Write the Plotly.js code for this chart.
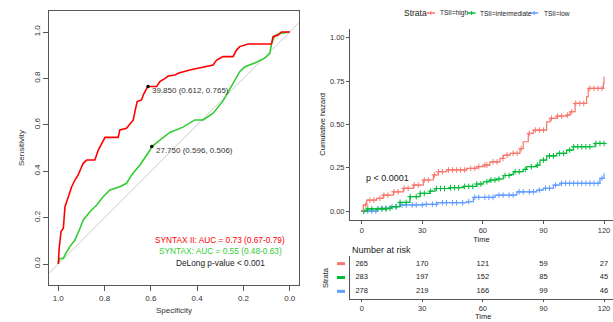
<!DOCTYPE html>
<html>
<head>
<meta charset="utf-8">
<script src="https://cdn.plot.ly/plotly-3.0.1.min.js"></script>
<style>html,body{margin:0;padding:0;background:#fff;}#chart{width:613px;height:322px;}</style>
</head>
<body>
<div id="chart"></div>
<script>
// ---------- ROC data (left panel) ----------
const rocSyntax2Spec = [1.000,0.996,0.988,0.978,0.971,0.957,0.942,0.928,0.914,0.899,0.892,0.877,0.842,0.827,0.813,0.798,0.741,0.734,0.705,0.690,0.676,0.669,0.659,0.640,0.633,0.618,0.612,0.575,0.561,0.539,0.525,0.496,0.482,0.432,0.381,0.331,0.316,0.288,0.245,0.230,0.216,0.180,0.079,0.072,0.050,0.036,0.000];
const rocSyntax2Sens = [0.000,0.068,0.140,0.154,0.247,0.290,0.333,0.362,0.384,0.419,0.434,0.448,0.448,0.491,0.520,0.546,0.546,0.578,0.585,0.606,0.621,0.656,0.700,0.707,0.728,0.757,0.765,0.765,0.786,0.800,0.810,0.815,0.822,0.836,0.848,0.858,0.879,0.894,0.894,0.922,0.937,0.948,0.948,0.980,0.987,1.000,1.000];
const rocSyntaxSpec = [1.000,0.993,0.978,0.971,0.950,0.928,0.906,0.892,0.863,0.834,0.806,0.777,0.734,0.705,0.683,0.647,0.604,0.596,0.561,0.518,0.461,0.410,0.374,0.331,0.288,0.252,0.216,0.194,0.151,0.108,0.086,0.079,0.065,0.043,0.000];
const rocSyntaxSens = [0.000,0.024,0.024,0.039,0.075,0.103,0.154,0.190,0.225,0.254,0.290,0.319,0.333,0.348,0.384,0.427,0.490,0.506,0.534,0.567,0.590,0.621,0.621,0.650,0.703,0.768,0.829,0.850,0.866,0.887,0.908,0.948,0.983,0.994,1.000];
const cutSpec = [0.612, 0.596];
const cutSens = [0.765, 0.506];
const cutLabels = ["39.850 (0.612, 0.765)", "27.750 (0.596, 0.506)"];
const diagSpec = [1.04, -0.04];
const diagSens = [-0.04, 1.04];
const rocLegend = ["SYNTAX II: AUC = 0.73 (0.67-0.79)", "SYNTAX: AUC = 0.55 (0.48-0.63)", "DeLong p-value < 0.001"];

// ---------- Cumulative hazard data (right panel) ----------
const highTime = [0,0.8,2.5,7.4,10.7,15.7,20.6,25.6,30.5,35.5,37.9,42.1,47,52,57,60.2,63.5,68.5,70.1,73.5,78.4,80,82.5,85,89.2,91.6,93.3,96.6,101.5,103.2,105.7,109.8,111.4,112.2,118.9,119.7,120];
const highHaz  = [0,0.035,0.063,0.073,0.092,0.111,0.131,0.150,0.179,0.208,0.227,0.237,0.237,0.246,0.256,0.265,0.284,0.304,0.323,0.333,0.360,0.400,0.448,0.467,0.467,0.515,0.535,0.548,0.554,0.573,0.621,0.621,0.660,0.708,0.708,0.737,0.775];
const interTime = [0,2.5,12.4,14.9,19,23.9,28.9,33.8,36.3,43.7,50.3,57,60.2,63.5,66.9,70.1,73.5,75.1,80,81.7,86.7,88.3,91.6,96.6,101.5,104.8,115.6,120];
const interHaz  = [0,0.012,0.016,0.025,0.050,0.083,0.102,0.115,0.130,0.135,0.142,0.156,0.169,0.179,0.185,0.205,0.210,0.227,0.240,0.256,0.265,0.294,0.318,0.333,0.352,0.371,0.390,0.390];
const lowTime = [0,7.4,14,19,30.5,37.1,52,55.3,66,76.8,86.7,89.9,94.9,98.2,116.4,118,120];
const lowHaz  = [0,0.016,0.025,0.035,0.039,0.048,0.054,0.079,0.092,0.111,0.121,0.131,0.150,0.160,0.160,0.189,0.217];
const highCensor  = [2,4,6,9,11,13,16,18,21,23,26,28,31,33,36,38,40,43,45,47,49,51,54,56,58,61,62,65,67,70,72,75,77,79,83,86,88,90,94,97,99,102,104,106,108,110,113,115,117,119];
const interCensor = [1,3,5,8,10,12,14,17,19,22,24,27,29,31,34,37,39,41,44,46,48,51,53,55,57,59,62,64,66,68,71,73,76,78,81,84,87,90,93,95,98,100,103,105,107,109,111,113,116,118,120];
const lowCensor   = [1,3,5,7,10,12,15,17,20,22,25,27,30,32,35,37,40,42,45,47,50,53,56,58,61,63,65,68,70,73,75,78,80,83,85,88,91,93,96,99,101,103,105,107,109,111,113,115,117,119];
const strataNames = ["TSII=high", "TSII=intermediate", "TSII=low"];
const pValueText = "p < 0.0001";

// ---------- Risk table ----------
const riskTimes = [0,30,60,90,120];
const riskHigh  = [265,170,121,59,27];
const riskInter = [283,197,152,85,45];
const riskLow   = [278,219,166,99,46];

// ---------- styling ----------
const FONT = "Liberation Sans, Arial, Helvetica, sans-serif";
const COL = {high: "#F8766D", inter: "#00BA38", low: "#619CFF"};
const ROC_RED = "#FF0000", ROC_GREEN = "#33CC33";
const W = 613, H = 322;
const px = v => v / W;
const py = v => (H - v) / H;

function stepAt(times, vals, t) {
  let v = vals[0];
  for (let i = 0; i < times.length; i++) { if (times[i] <= t) v = vals[i]; }
  return v;
}

const traces = [];
// diagonal reference
traces.push({x: diagSpec, y: diagSens, xaxis: "x", yaxis: "y", mode: "lines",
  line: {color: "#CCCCCC", width: 1}, hoverinfo: "skip"});
traces.push({x: rocSyntaxSpec, y: rocSyntaxSens, xaxis: "x", yaxis: "y", mode: "lines",
  line: {color: ROC_GREEN, width: 1.6}, name: "SYNTAX"});
traces.push({x: rocSyntax2Spec, y: rocSyntax2Sens, xaxis: "x", yaxis: "y", mode: "lines",
  line: {color: ROC_RED, width: 1.6}, name: "SYNTAX II"});
traces.push({x: cutSpec, y: cutSens, xaxis: "x", yaxis: "y", mode: "markers",
  marker: {color: "#000", size: 3.5}, hoverinfo: "skip"});

// hazard curves
const strata = [
  {t: highTime, h: highHaz, c: highCensor, col: COL.high, name: strataNames[0]},
  {t: interTime, h: interHaz, c: interCensor, col: COL.inter, name: strataNames[1]},
  {t: lowTime, h: lowHaz, c: lowCensor, col: COL.low, name: strataNames[2]},
];
strata.slice().reverse().forEach(s => {
  traces.push({x: s.t, y: s.h, xaxis: "x2", yaxis: "y2", mode: "lines",
    line: {color: s.col, width: 1.2, shape: "hv"}, name: s.name});
  traces.push({x: s.c, y: s.c.map(t => stepAt(s.t, s.h, t)), xaxis: "x2", yaxis: "y2", mode: "markers",
    marker: {symbol: "cross-thin-open", size: 4, color: s.col, line: {color: s.col, width: 1}}, name: s.name + " censor"});
});

// risk table numbers
[[riskHigh, 3], [riskInter, 2], [riskLow, 1]].forEach(([vals, row]) => {
  traces.push({x: riskTimes, y: riskTimes.map(() => row), text: vals.map(String), xaxis: "x3", yaxis: "y3",
    mode: "text", textfont: {family: FONT, size: 7.5, color: "#222"}, hoverinfo: "skip"});
});

const tickFontL = {family: FONT, size: 8, color: "#333"};
const tickFontR = {family: FONT, size: 7.5, color: "#333"};

const layout = {
  width: W, height: H, margin: {l: 0, r: 0, t: 0, b: 0},
  paper_bgcolor: "#fff", plot_bgcolor: "#fff", showlegend: false,
  font: {family: FONT},
  xaxis: {domain: [px(49), px(299)], range: [1.04, -0.04], anchor: "y",
    showline: true, mirror: true, linecolor: "#555", linewidth: 1,
    ticks: "outside", ticklen: 5, tickcolor: "#555", tickvals: [1,0.8,0.6,0.4,0.2,0], tickformat: ".1f",
    tickfont: tickFontL, showgrid: false, zeroline: false,
    title: {text: "Specificity", font: {family: FONT, size: 8, color: "#333"}, standoff: 5}},
  yaxis: {domain: [py(285), py(11)], range: [-0.0905, 1.0905], anchor: "x",
    showline: true, mirror: true, linecolor: "#555", linewidth: 1,
    ticks: "outside", ticklen: 5, tickcolor: "#555", tickvals: [0,0.2,0.4,0.6,0.8,1], tickformat: ".1f",
    tickangle: -90, tickfont: tickFontL, showgrid: false, zeroline: false,
    title: {text: "Sensitivity", font: {family: FONT, size: 8, color: "#333"}, standoff: 6}},
  xaxis2: {domain: [px(350), 1], range: [-5.8, 124.46], anchor: "y2",
    showline: true, linecolor: "#555", linewidth: 1, ticks: "outside", ticklen: 3, tickcolor: "#555",
    tickvals: riskTimes, tickfont: tickFontR, showgrid: false, zeroline: false,
    title: {text: "Time", font: {family: FONT, size: 7.5, color: "#222"}, standoff: 3}},
  yaxis2: {domain: [py(219.7), py(29.1)], range: [-0.05, 1.05], anchor: "x2",
    showline: true, linecolor: "#555", linewidth: 1, ticks: "outside", ticklen: 3, tickcolor: "#555",
    tickvals: [0,0.25,0.5,0.75,1], tickformat: ".2f", tickfont: tickFontR, showgrid: false, zeroline: false,
    title: {text: "Cumulative hazard", font: {family: FONT, size: 7.5, color: "#222"}, standoff: 3}},
  xaxis3: {domain: [px(350), 1], range: [-5.8, 124.46], anchor: "y3",
    showline: true, linecolor: "#555", linewidth: 1, ticks: "outside", ticklen: 2, tickcolor: "#555",
    tickvals: riskTimes, tickfont: tickFontR, showgrid: false, zeroline: false},
  yaxis3: {domain: [py(299), py(256)], range: [0.45, 3.55], anchor: "x3",
    showline: true, linecolor: "#555", linewidth: 1, ticks: "", showticklabels: false,
    showgrid: false, zeroline: false},
  annotations: [],
  shapes: []
};

// cut-point labels
cutLabels.forEach((txt, i) => layout.annotations.push({
  xref: "x", yref: "y", x: cutSpec[i], y: cutSens[i], text: txt, showarrow: false,
  xanchor: "left", yanchor: "middle", xshift: 2, yshift: -4,
  font: {family: FONT, size: 8, color: "#333"}}));
// ROC legend text
[[rocLegend[0], ROC_RED, 240], [rocLegend[1], ROC_GREEN, 250.7], [rocLegend[2], "#222", 263.3]].forEach(([t, c, y]) =>
  layout.annotations.push({xref: "paper", yref: "paper", x: px(220), y: py(y), text: t, showarrow: false,
    xanchor: "center", yanchor: "middle", font: {family: FONT, size: 8.3, color: c}}));
// p-value
layout.annotations.push({xref: "x2", yref: "y2", x: 13, y: 0.192, text: pValueText, showarrow: false,
  xanchor: "center", yanchor: "middle", font: {family: FONT, size: 9, color: "#222"}});
// risk table title, x title & strata label
layout.annotations.push({xref: "paper", yref: "paper", x: px(350), y: py(249.5), text: "Number at risk", showarrow: false,
  xanchor: "left", yanchor: "middle", font: {family: FONT, size: 9, color: "#222"}});
layout.annotations.push({xref: "x3", yref: "paper", x: 60, y: 0, text: "Time", showarrow: false, borderpad: 0,
  xanchor: "center", yanchor: "bottom", font: {family: FONT, size: 7.5, color: "#222"}});
layout.annotations.push({xref: "paper", yref: "paper", x: px(325), y: py(278), text: "Strata", showarrow: false,
  textangle: -90, xanchor: "center", yanchor: "middle", font: {family: FONT, size: 7.5, color: "#222"}});
// top legend
layout.annotations.push({xref: "paper", yref: "paper", x: px(401.5), y: py(13), text: "Strata", showarrow: false,
  xanchor: "left", yanchor: "middle", font: {family: FONT, size: 8.5, color: "#222"}});
const legendKeys = [[426.7, 435, 437.7, COL.high, strataNames[0]], [467.7, 475.5, 478.3, COL.inter, strataNames[1]], [530, 538.3, 541.5, COL.low, strataNames[2]]];
legendKeys.forEach(([x0, x1, xt, c, t]) => {
  layout.shapes.push({type: "line", xref: "paper", yref: "paper", x0: px(x0), x1: px(x1), y0: py(13), y1: py(13),
    line: {color: c, width: 1.5}});
  layout.shapes.push({type: "line", xref: "paper", yref: "paper", x0: px((x0 + x1) / 2), x1: px((x0 + x1) / 2), y0: py(11), y1: py(15),
    line: {color: c, width: 1}});
  layout.annotations.push({xref: "paper", yref: "paper", x: px(xt), y: py(13), text: t, showarrow: false,
    xanchor: "left", yanchor: "middle", font: {family: FONT, size: 6.5, color: "#222"}});
});
// risk table strata keys
[[3, COL.high], [2, COL.inter], [1, COL.low]].forEach(([row, c]) =>
  layout.shapes.push({type: "line", xref: "paper", yref: "y3", x0: px(337), x1: px(345), y0: row, y1: row,
    line: {color: c, width: 3}}));

Plotly.newPlot("chart", traces, layout, {staticPlot: true, displayModeBar: false});
</script>
</body>
</html>
